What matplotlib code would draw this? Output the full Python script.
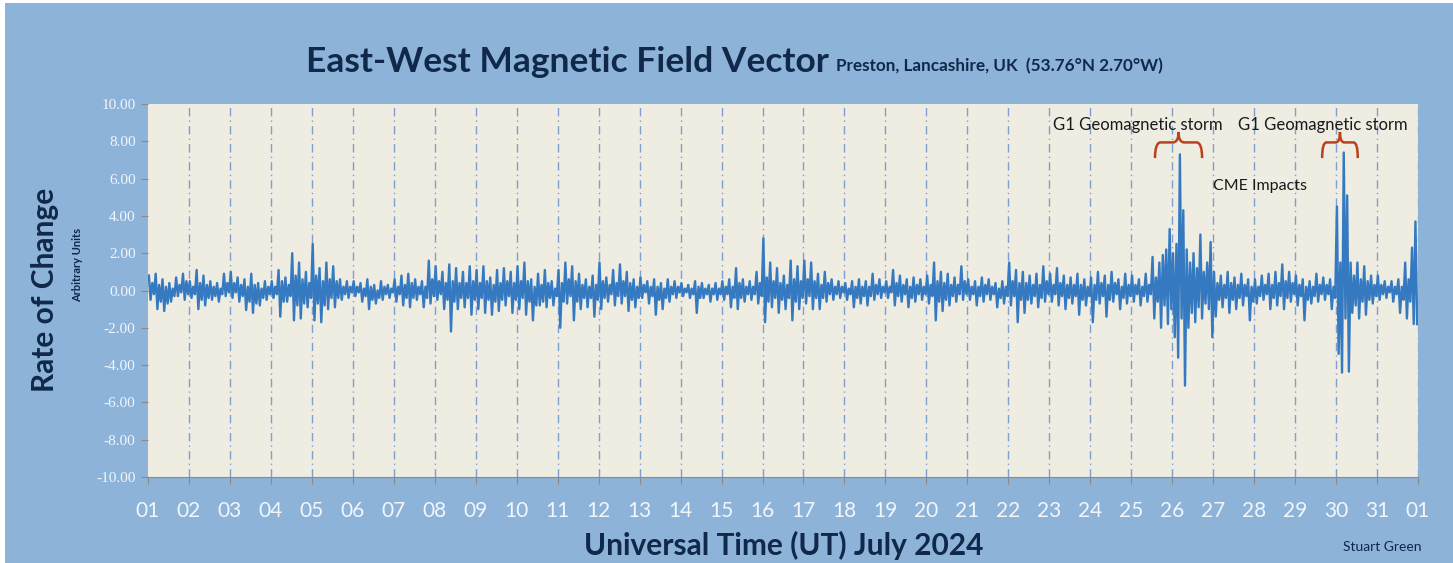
import numpy as np
import matplotlib
matplotlib.use("Agg")
import matplotlib.pyplot as plt
from matplotlib.path import Path
from matplotlib.patches import PathPatch, Rectangle

# Rate-of-change envelope, twelve 2-hour slots per day (July 1..31, 2024)
upper_env = [
    0.8, 0.4, 0.9, 0.3, 0.6, 0.2, 0.4, 0.1, 0.7, 0.3, 0.9, 0.5,     # 01
    0.5, 0.2, 1.1, 0.4, 0.8, 0.3, 0.5, 0.2, 0.4, 0.1, 0.9, 0.4,     # 02
    1.0, 0.4, 0.7, 0.3, 0.6, 0.2, 0.9, 0.3, 0.4, 0.1, 0.5, 0.2,     # 03
    0.5, 0.2, 1.1, 0.5, 0.7, 0.3, 2.0, 0.8, 1.5, 0.6, 1.0, 0.4,     # 04
    2.5, 0.8, 1.2, 0.5, 1.5, 0.6, 1.3, 0.5, 0.6, 0.2, 0.5, 0.2,     # 05
    0.5, 0.2, 0.4, 0.1, 0.6, 0.2, 0.3, 0.0, 0.5, 0.2, 0.3, 0.1,     # 06
    0.6, 0.2, 0.8, 0.3, 0.9, 0.4, 0.6, 0.2, 0.5, 0.2, 1.6, 0.6,     # 07
    1.3, 0.5, 1.0, 0.4, 1.4, 0.5, 1.2, 0.4, 1.0, 0.4, 1.3, 0.5,     # 08
    1.1, 0.4, 1.3, 0.5, 0.7, 0.3, 1.1, 0.4, 1.2, 0.5, 1.0, 0.4,     # 09
    1.3, 0.5, 1.5, 0.5, 0.6, 0.2, 0.9, 0.3, 1.1, 0.4, 0.5, 0.1,     # 10
    1.1, 0.4, 1.5, 0.6, 1.3, 0.5, 0.9, 0.3, 0.6, 0.2, 0.8, 0.3,     # 11
    1.5, 0.5, 0.7, 0.3, 1.1, 0.4, 1.4, 0.5, 1.0, 0.4, 0.6, 0.2,     # 12
    0.7, 0.3, 0.5, 0.2, 0.6, 0.2, 0.4, 0.1, 0.6, 0.2, 0.5, 0.2,     # 13
    0.4, 0.1, 0.3, 0.1, 0.5, 0.2, 0.4, 0.1, 0.3, 0.1, 0.4, 0.1,     # 14
    0.5, 0.2, 0.6, 0.2, 1.2, 0.4, 0.6, 0.2, 0.5, 0.2, 1.0, 0.4,     # 15
    2.8, 0.7, 1.5, 0.5, 1.2, 0.4, 0.8, 0.3, 1.6, 0.6, 1.3, 0.5,     # 16
    1.6, 0.6, 1.5, 0.5, 0.9, 0.3, 1.0, 0.4, 0.6, 0.2, 0.5, 0.2,     # 17
    0.4, 0.1, 0.5, 0.2, 0.6, 0.2, 0.5, 0.2, 0.9, 0.3, 0.6, 0.2,     # 18
    0.5, 0.2, 1.1, 0.4, 0.8, 0.3, 0.6, 0.2, 0.7, 0.3, 0.6, 0.2,     # 19
    0.8, 0.3, 1.5, 0.5, 1.0, 0.4, 0.9, 0.3, 0.7, 0.3, 1.3, 0.5,     # 20
    0.6, 0.2, 0.5, 0.2, 0.7, 0.3, 0.6, 0.2, 0.4, 0.1, 0.5, 0.2,     # 21
    1.5, 0.5, 1.1, 0.4, 1.0, 0.4, 0.8, 0.3, 0.9, 0.3, 1.3, 0.5,     # 22
    0.9, 0.3, 1.2, 0.4, 0.8, 0.3, 0.7, 0.3, 0.9, 0.3, 0.6, 0.2,     # 23
    0.7, 0.3, 1.0, 0.4, 0.8, 0.3, 1.0, 0.4, 0.6, 0.2, 0.9, 0.3,     # 24
    0.8, 0.3, 0.6, 0.2, 0.9, 0.3, 1.8, 0.7, 1.5, 1.9, 2.2, 3.3,     # 25
    2.0, 2.5, 7.3, 4.3, 2.2, 1.5, 2.0, 1.2, 3.0, 1.0, 1.5, 2.6,     # 26
    1.0, 0.4, 0.8, 0.3, 1.0, 0.4, 0.7, 0.3, 0.9, 0.3, 0.6, 0.2,     # 27
    0.6, 0.2, 0.8, 0.3, 0.9, 0.3, 1.0, 0.4, 1.4, 0.5, 1.0, 0.4,     # 28
    0.8, 0.3, 0.6, 0.2, 0.5, 0.2, 0.9, 0.3, 0.7, 0.3, 0.6, 0.2,     # 29
    4.5, 1.5, 7.4, 5.1, 1.5, 0.8, 1.5, 0.6, 1.3, 0.5, 0.8, 0.3,     # 30
    0.8, 0.3, 0.5, 0.2, 0.5, 0.2, 0.6, 0.2, 1.5, 0.6, 2.3, 3.7,     # 31
]
lower_env = [
    -0.5, -0.2, -1.0, -0.6, -1.1, -0.7, -0.6, -0.3, -0.3, -0.1, -0.5, -0.2,
    -0.4, -0.2, -1.0, -0.5, -0.8, -0.4, -0.5, -0.3, -0.6, -0.2, -0.3, -0.1,
    -0.4, -0.1, -0.6, -0.3, -1.05, -0.6, -1.2, -0.7, -0.8, -0.4, -0.5, -0.2,
    -0.4, -0.2, -1.4, -0.6, -0.6, -0.3, -1.6, -0.8, -1.5, -0.7, -0.9, -0.4,
    -1.6, -0.7, -1.7, -0.8, -1.0, -0.4, -0.9, -0.4, -0.5, -0.2, -0.4, -0.1,
    -0.3, -0.1, -0.6, -0.3, -1.0, -0.5, -0.7, -0.4, -0.5, -0.2, -0.4, -0.1,
    -0.6, -0.2, -0.8, -0.4, -0.9, -0.4, -0.5, -0.2, -0.9, -0.4, -0.7, -0.3,
    -0.5, -0.2, -1.0, -0.5, -2.2, -0.6, -1.0, -0.4, -0.9, -0.4, -1.3, -0.5,
    -1.0, -0.4, -1.2, -0.5, -1.3, -0.6, -1.1, -0.5, -0.8, -0.3, -1.2, -0.5,
    -1.0, -0.4, -1.3, -0.6, -1.6, -0.8, -0.8, -0.6, -0.9, -0.4, -0.8, -0.3,
    -2.0, -0.6, -0.7, -0.3, -1.6, -0.6, -1.0, -0.4, -0.9, -0.4, -1.4, -0.5,
    -1.0, -0.4, -0.6, -0.2, -0.8, -0.3, -0.7, -0.3, -1.1, -0.5, -0.9, -0.4,
    -0.4, -0.1, -0.7, -0.3, -1.3, -0.5, -1.0, -0.4, -0.6, -0.2, -0.4, -0.1,
    -0.3, -0.1, -0.4, -0.2, -1.2, -0.4, -0.4, -0.2, -0.6, -0.2, -0.5, -0.2,
    -0.5, -0.2, -0.9, -0.4, -1.0, -0.4, -0.6, -0.2, -0.5, -0.2, -0.7, -0.3,
    -1.7, -0.6, -0.9, -0.4, -1.2, -0.5, -1.0, -0.4, -1.6, -0.6, -1.0, -0.4,
    -0.7, -0.3, -1.0, -0.4, -1.0, -0.4, -0.6, -0.2, -0.5, -0.2, -0.4, -0.1,
    -0.5, -0.2, -0.9, -0.4, -0.7, -0.3, -0.8, -0.3, -0.5, -0.2, -0.4, -0.1,
    -0.4, -0.1, -0.8, -0.3, -0.6, -0.2, -0.9, -0.4, -0.6, -0.2, -0.5, -0.2,
    -0.7, -0.3, -1.6, -0.6, -1.1, -0.5, -0.8, -0.3, -0.6, -0.2, -0.5, -0.2,
    -0.5, -0.2, -0.8, -0.3, -0.6, -0.2, -0.5, -0.2, -0.9, -0.4, -0.7, -0.3,
    -0.8, -0.3, -1.7, -0.5, -1.2, -0.5, -0.7, -0.3, -0.9, -0.4, -0.6, -0.2,
    -0.6, -0.2, -0.8, -0.3, -1.0, -0.4, -0.7, -0.3, -1.3, -0.5, -0.8, -0.3,
    -1.7, -0.5, -0.7, -0.3, -1.4, -0.5, -0.6, -0.2, -1.0, -0.4, -0.7, -0.3,
    -0.6, -0.2, -0.8, -0.3, -0.6, -0.2, -1.5, -0.6, -2.0, -0.8, -1.8, -1.0,
    -2.5, -3.6, -1.5, -5.1, -2.0, -1.2, -1.7, -0.9, -1.5, -0.7, -1.0, -2.5,
    -1.4, -0.5, -0.9, -0.4, -1.2, -0.5, -1.0, -0.4, -0.8, -0.3, -1.6, -0.6,
    -0.7, -0.3, -0.5, -0.2, -1.0, -0.4, -0.8, -0.3, -1.0, -0.4, -0.6, -0.2,
    -0.8, -0.3, -1.6, -0.5, -0.7, -0.3, -0.6, -0.2, -0.5, -0.2, -1.0, -0.4,
    -3.4, -4.4, -1.5, -4.35, -1.2, -0.8, -1.5, -0.6, -1.3, -0.5, -0.7, -0.3,
    -0.5, -0.2, -0.4, -0.1, -0.6, -0.2, -1.2, -0.5, -1.5, -0.6, -1.8, -1.8,
]
SLOTS_PER_DAY = 12

day_labels = [f"{d:02d}" for d in range(1, 32)] + ["01"]
y_ticks = list(range(-10, 11, 2))

# storm annotations: (brace start day, brace end day, label centre day)
storms = [(25.58, 26.73, 25.16, "G1 Geomagnetic storm"),
          (29.66, 30.53, 29.68, "G1 Geomagnetic storm")]

BG = "#8DB3D9"
PLOT_BG = "#EFECE2"
LINE = "#3579C0"
NAVY = "#10284A"
TICK_TXT = "#F2F6FB"
BRACE = "#B8421C"

plt.rcParams["font.family"] = ["Lato", "DejaVu Sans"]

# build the trace: each slot goes to its high then its low
upper = np.array(upper_env)
lower = np.array(lower_env)
n = len(upper)
slot_start = 1 + np.arange(n) / SLOTS_PER_DAY
t = np.empty(2 * n)
v = np.empty(2 * n)
t[0::2] = slot_start + 0.25 / SLOTS_PER_DAY
t[1::2] = slot_start + 0.75 / SLOTS_PER_DAY
v[0::2] = upper
v[1::2] = lower

fig = plt.figure(figsize=(14.53, 5.63), dpi=100, facecolor="white")
fig.patches.append(Rectangle((5 / 1453, 0), 1, 1 - 3 / 563, transform=fig.transFigure,
                             facecolor=BG, edgecolor="none", zorder=-10))
ax = fig.add_axes([148 / 1453, 1 - 477 / 563, 1270 / 1453, 373 / 563])
ax.set_facecolor(PLOT_BG)

ax.plot(t, v, color=LINE, lw=1.7, zorder=3)

ax.set_xlim(1, 32)
ax.set_ylim(-10, 10)

days = np.arange(1, 33)
for d in days[1:]:
    ax.axvline(d, color="#7F9FCF", lw=1.0, ls=(0, (6, 3, 1, 3)), zorder=1)

ax.set_xticks(days)
ax.set_xticklabels(day_labels, fontsize=15, color=TICK_TXT)
ax.set_yticks(y_ticks)
ax.set_yticklabels([f"{y:.2f}" for y in y_ticks], fontsize=11, color=TICK_TXT,
                   family="Liberation Serif")
ax.tick_params(axis="x", length=5, color="#8A8A8A", pad=12)
ax.tick_params(axis="y", length=5, color="#8A8A8A", pad=4)
for side in ("top", "right", "left"):
    ax.spines[side].set_visible(False)
ax.spines["bottom"].set_color("#8A8A8A")

# titles and axis labels
fig.text(306 / 1453, 1 - 62 / 563, "East-West Magnetic Field Vector", fontsize=25.5,
         fontweight="bold", color=NAVY, va="center", ha="left")
fig.text(836 / 1453, 1 - 66 / 563, "Preston, Lancashire, UK  (53.76°N 2.70°W)",
         fontsize=12.3, fontweight="bold", color=NAVY, va="center", ha="left")
fig.text(784 / 1453, 1 - 545 / 563, "Universal Time (UT) July 2024", fontsize=21.5,
         fontweight="bold", color=NAVY, va="center", ha="center")
fig.text(45 / 1453, 1 - 290 / 563, "Rate of Change", fontsize=21.5, fontweight="bold",
         color=NAVY, va="center", ha="center", rotation=90)
fig.text(78 / 1453, 1 - 265 / 563, "Arbitrary Units", fontsize=8, fontweight="bold",
         color=NAVY, va="center", ha="center", rotation=90)
fig.text(1382 / 1453, 1 - 547 / 563, "Stuart Green", fontsize=10, color=NAVY,
         va="center", ha="center")


def draw_brace(ax, x0, x1, y_bot, y_top, color):
    xm = (x0 + x1) / 2
    y_arm = y_bot + 0.6 * (y_top - y_bot)
    q = 0.12 * (x1 - x0)
    verts = [(x0, y_bot), (x0, y_arm), (x0 + q, y_arm),
             (xm - q, y_arm), (xm, y_arm), (xm, y_top),
             (xm, y_arm), (xm + q, y_arm),
             (x1 - q, y_arm), (x1, y_arm), (x1, y_bot)]
    codes = [Path.MOVETO, Path.CURVE3, Path.CURVE3,
             Path.LINETO, Path.CURVE3, Path.CURVE3,
             Path.CURVE3, Path.CURVE3,
             Path.LINETO, Path.CURVE3, Path.CURVE3]
    ax.add_patch(PathPatch(Path(verts, codes), facecolor="none", edgecolor=color,
                           lw=1.8, zorder=4))


for x0, x1, xc, label in storms:
    draw_brace(ax, x0, x1, 7.1, 8.5, BRACE)
    ax.text(xc, 8.9, label, fontsize=12, color="#1A1A1A",
            ha="center", va="center", zorder=5)
ax.text(28.14, 5.6, "CME Impacts", fontsize=11.5, color="#1A1A1A",
        ha="center", va="center", zorder=5)

fig.savefig("out.png", dpi=100, facecolor=fig.get_facecolor())
